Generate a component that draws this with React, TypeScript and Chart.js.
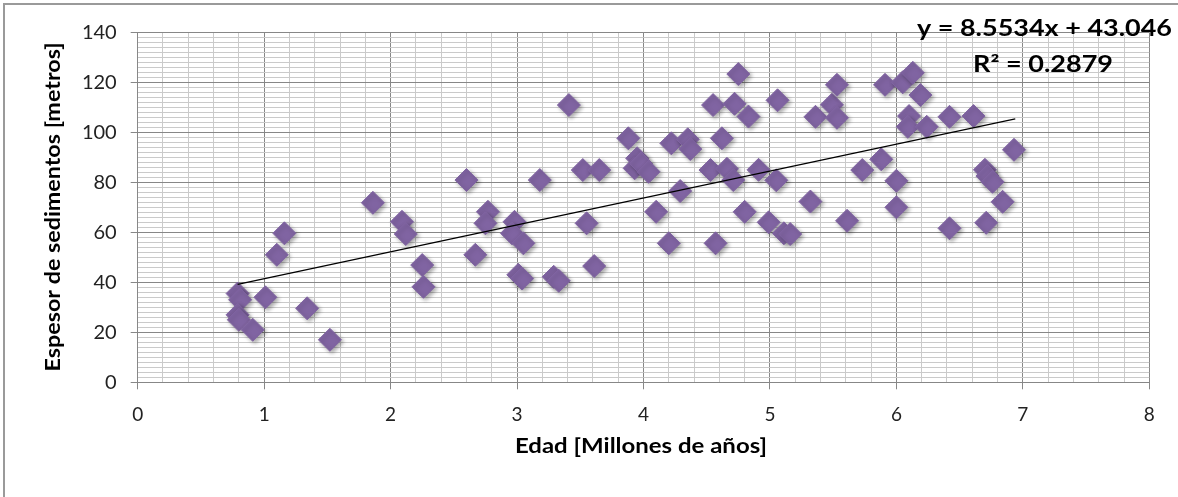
import React, { useEffect, useRef } from "react";
import { Chart, registerables } from "chart.js";

Chart.register(...registerables);

// Edad [Millones de años]
const edadX = [
  0.79, 0.81, 0.79, 0.8, 0.91, 1.01, 1.1, 1.16, 1.34, 1.52,
  1.86, 2.09, 2.12, 2.25, 2.26, 2.6, 2.67, 2.77, 2.75, 2.98,
  2.96, 3.05, 3.01, 3.04, 3.29, 3.33, 3.18, 3.41, 3.52, 3.65,
  3.55, 3.61, 3.88, 3.95, 3.93, 3.98, 4.04, 4.1, 4.2, 4.22,
  4.35, 4.37, 4.29, 4.53, 4.57, 4.55, 4.62, 4.66, 4.71, 4.72,
  4.75, 4.83, 4.8, 4.91, 4.99, 5.05, 5.06, 5.11, 5.16, 5.32,
  5.36, 5.49, 5.53, 5.53, 5.61, 5.73, 5.88, 5.91, 6.0, 6.0,
  6.05, 6.13, 6.19, 6.1, 6.09, 6.24, 6.42, 6.42, 6.61, 6.7,
  6.72, 6.76, 6.84, 6.71, 6.93,
];
// Espesor de sedimentos [metros]
const espesorY = [
  35.5, 33, 27, 25, 21, 34, 51, 59.6, 29.6, 17,
  71.8, 64.2, 59.3, 46.9, 38.2, 80.9, 51, 68.2, 63.6, 64.2,
  59.6, 55.6, 43, 41.5, 42.2, 40.6, 80.9, 110.9, 84.9, 84.9,
  63.6, 46.5, 97.6, 89.6, 85.6, 87.5, 84.2, 68.2, 55.6, 95.6,
  97.2, 93.3, 76.5, 84.9, 55.6, 110.9, 97.6, 85.4, 80.9, 111.4,
  123.3, 106.3, 68.2, 85, 64, 80.8, 112.8, 59.6, 59.3, 72.3,
  106.2, 111, 119, 105.8, 64.6, 84.9, 89.2, 119, 80.6, 70,
  120, 123.8, 114.9, 106.5, 102.2, 102.2, 106.2, 61.6, 106.5, 85,
  82.5, 80.2, 72.2, 63.8, 93,
];
// Línea de tendencia (extremos)
const trendX = [0.79, 6.94];
const trendY = [39.2, 105.4];

const xMin = 0;
const xMax = 8;
const xStep = 0.2;
const yMin = 0;
const yMax = 140;
const yStep = 2;
const yLabelEvery = 20;

const equationText = "y = 8.5534x + 43.046";
const r2Text = "R² = 0.2879";
const xTitle = "Edad [Millones de años]";
const yTitle = "Espesor de sedimentos [metros]";

const PURPLE = "rgb(128,100,162)";
const MAJOR = "#878787";
const MINOR = "#cacaca";

function drawFitted(
  ctx: CanvasRenderingContext2D,
  text: string,
  cx: number,
  cy: number,
  font: string,
  width: number,
  rotate = false
) {
  ctx.save();
  ctx.translate(cx, cy);
  if (rotate) ctx.rotate(-Math.PI / 2);
  ctx.font = font;
  const w = ctx.measureText(text).width;
  ctx.scale(width / w, 1);
  ctx.textAlign = "center";
  ctx.textBaseline = "middle";
  ctx.fillStyle = "#000";
  ctx.fillText(text, 0, 0);
  ctx.restore();
}

const shadowPlugin = {
  id: "markerShadow",
  beforeDatasetDraw(chart: any, args: any) {
    if (args.index !== 1) return;
    const ctx = chart.ctx;
    ctx.save();
    ctx.shadowColor = "rgba(0,0,0,0.35)";
    ctx.shadowBlur = 4;
    ctx.shadowOffsetX = 2;
    ctx.shadowOffsetY = 2;
  },
  afterDatasetDraw(chart: any, args: any) {
    if (args.index !== 1) return;
    chart.ctx.restore();
  },
};

const textPlugin = {
  id: "texts",
  afterDraw(chart: any) {
    const ctx = chart.ctx as CanvasRenderingContext2D;
    drawFitted(ctx, equationText, 1044.5, 29, "bold 22px Lato", 255);
    drawFitted(ctx, r2Text, 1043, 65, "bold 22px Lato", 140);
    drawFitted(ctx, yTitle, 54, 207, "bold 20px Lato", 329, true);
    drawFitted(ctx, xTitle, 641, 447, "bold 20px Lato", 252);
  },
};

const isMult = (v: number, m: number) => Math.abs(v / m - Math.round(v / m)) < 1e-6;

export default function App() {
  const ref = useRef<HTMLCanvasElement | null>(null);

  useEffect(() => {
    document.body.style.margin = "0";
    document.body.style.background = "#fff";
    if (!ref.current) return;
    const points = edadX.map((x, i) => ({ x, y: espesorY[i] }));
    const trend = trendX.map((x, i) => ({ x, y: trendY[i] }));
    const chart = new Chart(ref.current, {
      type: "scatter",
      data: {
        datasets: [
          {
            data: trend,
            showLine: true,
            borderColor: "#000",
            borderWidth: 1.3,
            pointRadius: 0,
            order: 0,
          } as any,
          {
            data: points,
            pointStyle: "rectRot",
            pointRadius: 11.5,
            pointHoverRadius: 11.5,
            backgroundColor: PURPLE,
            borderColor: PURPLE,
            borderWidth: 1,
            order: 1,
          },
        ],
      },
      options: {
        responsive: false,
        animation: false,
        events: [],
        layout: { padding: { left: 0, top: 32.3, right: 28.7, bottom: 0 } },
        plugins: {
          legend: { display: false },
          tooltip: { enabled: false },
        },
        scales: {
          x: {
            type: "linear",
            min: xMin,
            max: xMax,
            afterFit: (s: any) => {
              s.height = 497 - 382.3;
            },
            ticks: {
              stepSize: xStep,
              autoSkip: false,
              maxRotation: 0,
              padding: 14,
              color: "#222",
              font: { family: "Lato", size: 19 },
              callback: (v: any) => (isMult(Number(v), 1) ? String(Math.round(Number(v))) : ""),
            },
            grid: {
              color: (c: any) => (isMult(c.tick.value, 1) ? MAJOR : MINOR),
              tickColor: (c: any) => (isMult(c.tick.value, 1) ? MAJOR : "rgba(0,0,0,0)"),
              tickLength: 7,
              lineWidth: 1,
            },
            border: { color: MAJOR, width: 1 },
          },
          y: {
            type: "linear",
            min: yMin,
            max: yMax,
            afterFit: (s: any) => {
              s.width = 137.7;
            },
            ticks: {
              stepSize: yStep,
              autoSkip: false,
              padding: 14,
              color: "#222",
              font: { family: "Lato", size: 20 },
              callback: (v: any) =>
                isMult(Number(v), yLabelEvery) ? String(Math.round(Number(v))) : "",
            },
            grid: {
              color: (c: any) => (isMult(c.tick.value, yLabelEvery) ? MAJOR : MINOR),
              tickColor: (c: any) =>
                isMult(c.tick.value, yLabelEvery) ? MAJOR : "rgba(0,0,0,0)",
              tickLength: 7,
              lineWidth: 1,
            },
            border: { color: MAJOR, width: 1 },
          },
        },
      },
      plugins: [shadowPlugin, textPlugin],
    });
    return () => chart.destroy();
  }, []);

  return (
    <div style={{ position: "fixed", left: 0, top: 0, width: 1178, height: 497, overflow: "hidden", background: "#fff" }}>
      <div
        style={{
          position: "absolute",
          left: 3,
          top: 3,
          width: 1200,
          height: 520,
          borderLeft: "2px solid #9a9a9a",
          borderTop: "2px solid #9a9a9a",
        }}
      />
      <canvas ref={ref} width={1178} height={497} style={{ position: "absolute", left: 0, top: 0 }} />
    </div>
  );
}
